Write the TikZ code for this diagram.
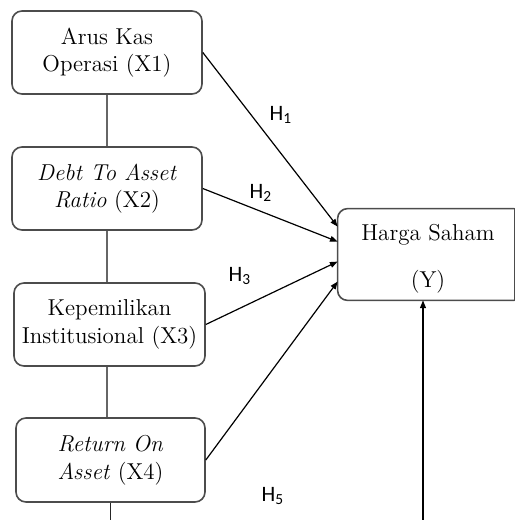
\documentclass[tikz,border=0pt]{standalone}
\usepackage{fontspec}
\newfontfamily\hfont{Carlito}
\usetikzlibrary{arrows.meta,calc}
\begin{document}
\begin{tikzpicture}[x=0.5pt,y=-0.5pt,
  box/.style={draw=black!70, line width=0.8pt, rounded corners=5pt, inner sep=0pt,
    minimum width=95pt, minimum height=41.5pt, align=center,
    font=\fontsize{11.5}{13.8}\selectfont},
  ytext/.style={inner sep=0pt, font=\fontsize{11.5}{13.8}\selectfont},
  link/.style={line width=0.9pt, draw=black!60},
  arr/.style={line width=0.6pt, draw=black, -{Triangle[length=3.8pt,width=2.9pt]}},
  hyp/.style={inner sep=0pt, font=\hfont\fontsize{11}{13}\selectfont}]
\useasboundingbox (0,0) rectangle (517,520);
% variable boxes
\node[box] (X1) at (107,52.5) {Arus Kas\\Operasi (X1)};
\node[box] (X2) at (107,188.5) {\textit{Debt To Asset}\\\textit{Ratio} (X2)};
\node[box, minimum width=95.5pt] (X3) at (109.5,324.5) {Kepemilikan\\Institusional (X3)};
\node[box, minimum width=94.5pt, minimum height=42pt] (X4) at (110.5,460) {\textit{Return On}\\\textit{Asset} (X4)};
% dependent box
\node[inner sep=0pt, minimum width=88pt, minimum height=45.5pt] (Y) at (426,254.5) {};
\draw[draw=black!70, line width=0.8pt, rounded corners=5pt] (Y.north east) -- (Y.north west) -- (Y.south west) -- (Y.south east);
\draw[draw=black!70, line width=0.8pt, line cap=rect] (Y.north east) -- (Y.south east);
\node[ytext] (Yt1) at (428,235) {Harga Saham};
\node[ytext] (Yt2) at (428,282) {(Y)};
% vertical links
\draw[link] (X1.south) -- (X2.north);
\draw[link] (X2.south) -- (X2.south |- X3.north);
\draw[link] (X2.south |- X3.south) -- (X2.south |- X4.north);
\coordinate (b1) at (110.5,524);
\coordinate (b2) at (423,524);
\draw[line width=0.7pt, draw=black!85] (X4.south) -- (b1);
\draw[arr] (b2) -- (b2 |- Y.south);
% hypothesis arrows
\draw[arr] (X1.east) -- ($(Y.north west)+(0,18)$);
\draw[arr] (X2.east) -- ($(Y.north west)+(0,33)$);
\draw[arr] (X3.east) -- ($(Y.north west)+(0,53)$);
\draw[arr] (X4.east) -- ($(Y.north west)+(0,73)$);
% labels
\node[hyp] (H1) at (281,115) {H\textsubscript{1}};
\node[hyp] (H2) at (261,193) {H\textsubscript{2}};
\node[hyp] (H3) at (240,276) {H\textsubscript{3}};
\node[hyp] (H5) at (273,496) {H\textsubscript{5}};
\end{tikzpicture}
\end{document}
